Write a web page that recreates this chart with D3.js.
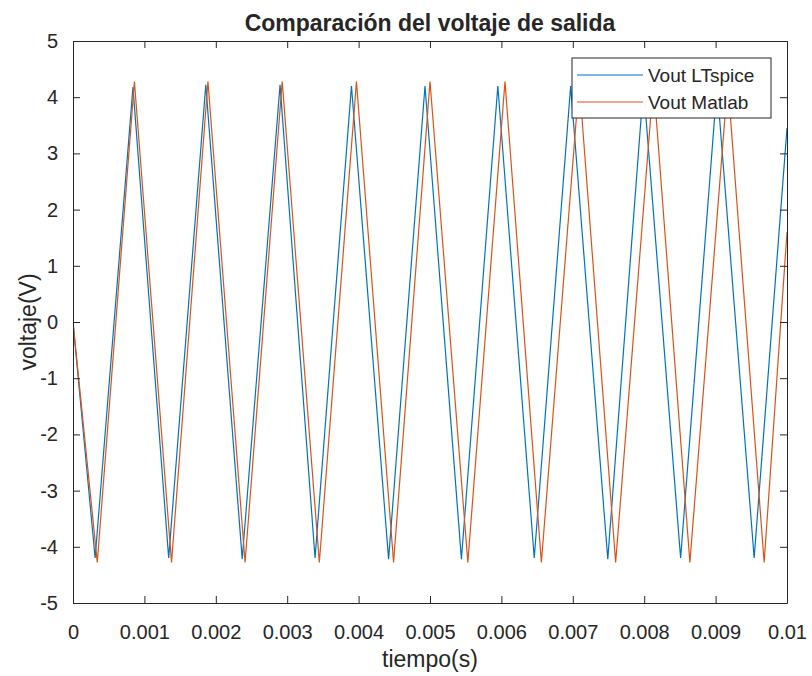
<!DOCTYPE html>
<html>
<head>
<meta charset="utf-8">
<script src="https://cdn.jsdelivr.net/npm/d3@7"></script>
<style>
  body { margin: 0; background: #fff; }
  #chart { width: 812px; height: 676px; }
  text { font-family: "Liberation Sans", Arial, sans-serif; fill: #262626; }
</style>
</head>
<body>
<div id="chart"></div>
<script>
// Vout LTspice: peaks and troughs
const ltspiceTime = [0, 0.00031, 0.00084, 0.00134, 0.00186, 0.00237, 0.0029, 0.00339, 0.0039, 0.00442,
  0.00493, 0.00544, 0.00595, 0.00646, 0.00697, 0.00749, 0.00799, 0.00851, 0.00902, 0.00954, 0.01];
const ltspiceVolt = [0, -4.2, 4.18, -4.2, 4.22, -4.22, 4.22, -4.2, 4.2, -4.22,
  4.2, -4.22, 4.2, -4.2, 4.2, -4.22, 4.2, -4.2, 4.2, -4.2, 3.45];

// Vout Matlab
const matlabTime = [0, 0.00034, 0.00086, 0.00138, 0.00189, 0.00241, 0.00293, 0.00345, 0.00397, 0.00449,
  0.005, 0.00553, 0.00605, 0.00656, 0.00709, 0.0076, 0.00813, 0.00864, 0.00917, 0.00968, 0.01];
const matlabVolt = [0, -4.28, 4.28, -4.28, 4.28, -4.28, 4.28, -4.28, 4.28, -4.28,
  4.28, -4.28, 4.28, -4.28, 4.28, -4.28, 4.28, -4.28, 4.28, -4.28, 1.6];

const seriesNames = ["Vout LTspice", "Vout Matlab"];
const xTicks = [0, 0.001, 0.002, 0.003, 0.004, 0.005, 0.006, 0.007, 0.008, 0.009, 0.01];
const xTickLabels = ["0", "0.001", "0.002", "0.003", "0.004", "0.005", "0.006", "0.007", "0.008", "0.009", "0.01"];
const yTicks = [-5, -4, -3, -2, -1, 0, 1, 2, 3, 4, 5];
const yTickLabels = ["-5", "-4", "-3", "-2", "-1", "0", "1", "2", "3", "4", "5"];

const width = 812;
const height = 676;
const margin = { top: 41, right: 25, bottom: 73, left: 73 };
const innerWidth = width - margin.left - margin.right;
const innerHeight = height - margin.top - margin.bottom;
const colors = ["#0072BD", "#D95319"];
const tickLen = 7;

const svg = d3.select('#chart')
  .append('svg')
  .attr('width', width)
  .attr('height', height);

const g = svg.append('g')
  .attr('transform', `translate(${margin.left},${margin.top})`);

const x = d3.scaleLinear().domain([0, 0.01]).range([0, innerWidth]);
const y = d3.scaleLinear().domain([-5, 5]).range([innerHeight, 0]);

const series = [
  ltspiceTime.map((t, i) => ({ t, v: ltspiceVolt[i] })),
  matlabTime.map((t, i) => ({ t, v: matlabVolt[i] }))
];

const line = d3.line()
  .x(d => x(d.t))
  .y(d => y(d.v));

g.append('defs').append('clipPath').attr('id', 'clip')
  .append('rect').attr('width', innerWidth).attr('height', innerHeight);

// Lines
series.forEach((s, i) => {
  g.append('path')
    .datum(s)
    .attr('clip-path', 'url(#clip)')
    .attr('fill', 'none')
    .attr('stroke', colors[i])
    .attr('stroke-width', 1.2)
    .attr('d', line);
});

// Axes (ticks pointing inward, box on)
const xAxis = g.append('g')
  .attr('transform', `translate(0,${innerHeight})`)
  .call(d3.axisBottom(x).tickValues(xTicks).tickSizeInner(-tickLen).tickSizeOuter(0)
    .tickPadding(22).tickFormat((d, i) => xTickLabels[i]));

const xTop = g.append('g')
  .call(d3.axisTop(x).tickValues(xTicks).tickSizeInner(-tickLen).tickSizeOuter(0).tickFormat(''));

const yAxis = g.append('g')
  .call(d3.axisLeft(y).tickValues(yTicks).tickSizeInner(-tickLen).tickSizeOuter(0)
    .tickPadding(15).tickFormat((d, i) => yTickLabels[i]));

const yRight = g.append('g')
  .attr('transform', `translate(${innerWidth},0)`)
  .call(d3.axisRight(y).tickValues(yTicks).tickSizeInner(-tickLen).tickSizeOuter(0).tickFormat(''));

[xAxis, xTop, yAxis, yRight].forEach(a => {
  a.select('.domain').attr('stroke', '#262626').attr('stroke-width', 1);
  a.selectAll('.tick line').attr('stroke', '#262626');
  a.selectAll('text')
    .attr('font-family', '"Liberation Sans", Arial, sans-serif')
    .attr('font-size', 20)
    .attr('fill', '#262626');
});

// Title and axis labels
svg.append('text')
  .attr('x', margin.left + innerWidth / 2)
  .attr('y', 31)
  .attr('text-anchor', 'middle')
  .attr('font-size', 23)
  .attr('font-weight', 'bold')
  .attr('fill', '#000')
  .text('Comparación del voltaje de salida');

svg.append('text')
  .attr('x', margin.left + innerWidth / 2)
  .attr('y', 667)
  .attr('text-anchor', 'middle')
  .attr('font-size', 23)
  .text('tiempo(s)');

svg.append('text')
  .attr('transform', `translate(36,${margin.top + innerHeight / 2}) rotate(-90)`)
  .attr('text-anchor', 'middle')
  .attr('font-size', 23)
  .text('voltaje(V)');

// Legend
const legend = svg.append('g').attr('transform', 'translate(572,58)');
legend.append('rect')
  .attr('width', 199)
  .attr('height', 60)
  .attr('fill', '#fff')
  .attr('stroke', '#262626')
  .attr('stroke-width', 1);

seriesNames.forEach((name, i) => {
  const row = legend.append('g').attr('transform', `translate(0,${17 + i * 27})`);
  row.append('line')
    .attr('x1', 5).attr('x2', 71)
    .attr('stroke', colors[i])
    .attr('stroke-width', 1.2);
  row.append('text')
    .attr('x', 76)
    .attr('dy', '0.35em')
    .attr('font-size', 19)
    .attr('fill', '#000')
    .text(name);
});
</script>
</body>
</html>
